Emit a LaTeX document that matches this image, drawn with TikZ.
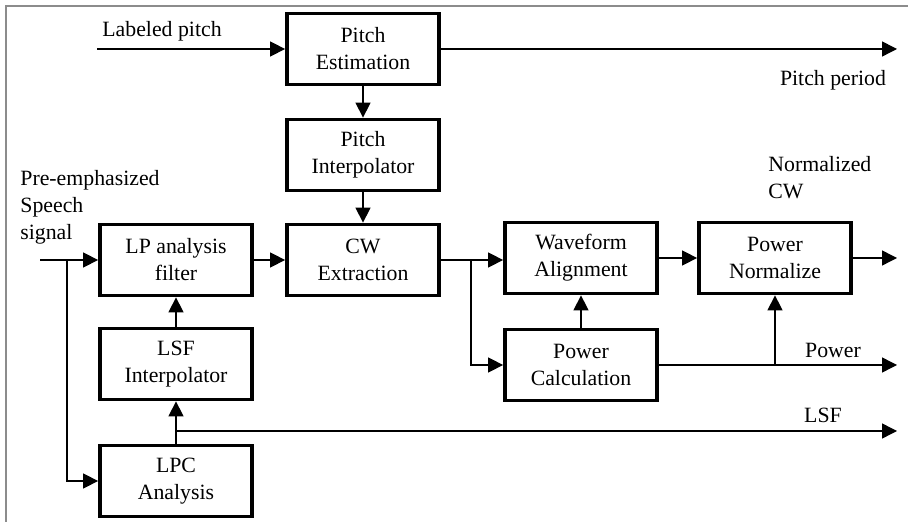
\documentclass[tikz,border=0pt]{standalone}
\usepackage{fontspec}
\setmainfont{Liberation Serif}
\usetikzlibrary{arrows.meta, positioning}

\begin{document}
\begin{tikzpicture}[
  x=0.5pt, y=-0.5pt,
  every node/.style={font=\fontsize{10.9}{13.5}\selectfont},
  block/.style={draw=black, line width=1.9pt, minimum width=76pt, minimum height=35.5pt, align=center, inner sep=2pt},
  arrow/.style={-{Triangle[length=7.5pt, width=7.5pt]}, line width=0.7pt},
  sig/.style={align=left, inner sep=0pt},
  frame/.style={draw=black!45, line width=0.6pt}
]
\useasboundingbox (0,0) rectangle (908,522);
\draw[frame] (6,522) -- (6,6) -- (908,6);

% === BLOCKS ===
\node[block] (pest)  at (363,49)  {Pitch\\Estimation};
\node[block] (pint)  at (363,155) {Pitch\\Interpolator};
\node[block] (cwx)   at (363,260) {CW\\Extraction};
\node[block] (lpf)   at (176,260) {LP analysis\\filter};
\node[block] (lsfi)  at (176,364) {LSF\\Interpolator};
\node[block] (lpc)   at (176,481) {LPC\\Analysis};
\node[block] (wfa)   at (581,258) {Waveform\\Alignment};
\node[block] (pnorm) at (775,258) {Power\\Normalize};
\node[block] (pcalc) at (581,365) {Power\\Calculation};

% === SIGNAL LABELS ===
\node[sig] (lblpitch) at (162,31)  {Labeled pitch};
\node[sig] (lblpp)    at (833,80)  {Pitch period};
\node[sig, anchor=west] (lblncw) at (768,178) {Normalized\\CW};
\node[sig, anchor=west] (lblsp)  at (20,207)  {Pre-emphasized\\Speech\\signal};
\node[sig] (lblpow)   at (833,350) {Power};
\node[sig] (lbllsf)   at (823,415) {LSF};

% === PITCH PATH ===
\coordinate (lpin)  at (97,49);
\coordinate (ppout) at (897,49);
\draw[arrow] (lpin) -- (pest.west);
\draw[arrow] (pest.east) -- (ppout);
\draw[arrow] (pest) -- (pint);
\draw[arrow] (pint) -- (cwx);

% === SPEECH / LSF PATH ===
\coordinate (sin)    at (40,260);
\coordinate (sbr)    at (67,260);
\coordinate (lsfbr)  at (176,431);
\coordinate (lsfout) at (897,431);
\draw[arrow] (sin) -- (lpf.west);
\draw[arrow] (sbr) |- (lpc.west);
\draw[arrow] (lpf) -- (cwx);
\draw[arrow] (lsfi) -- (lpf);
\draw[arrow] (lpc) -- (lsfi);
\draw[arrow] (lsfbr) -- (lsfout);

% === CW PATH ===
\coordinate (cwbr)   at (471,260);
\coordinate (ncwout) at (897,258);
\coordinate (pwout)  at (897,365);
\draw[arrow] (cwx.east) -- (cwx.east -| wfa.west);
\draw[arrow] (cwbr) |- (pcalc.west);
\draw[arrow] (pcalc) -- (wfa);
\draw[arrow] (wfa) -- (pnorm);
\draw[arrow] (pnorm) -- (ncwout);
\draw[arrow] (pcalc) -- (pwout);
\draw[arrow] (pnorm.south |- pcalc.east) -- (pnorm.south);

\end{tikzpicture}
\end{document}
